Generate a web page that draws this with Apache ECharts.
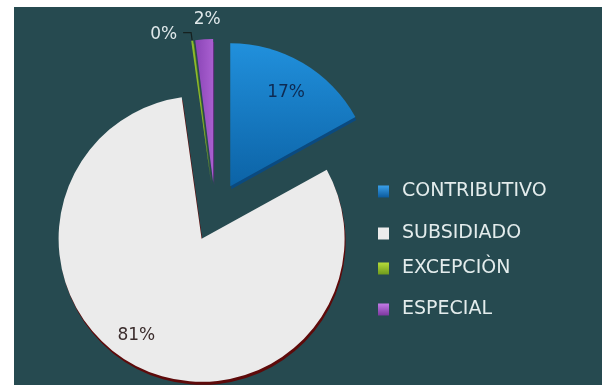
<!DOCTYPE html>
<html>
<head>
<meta charset="utf-8">
<script src="https://cdn.jsdelivr.net/npm/echarts@6/dist/echarts.min.js"></script>
<style>
  html, body { margin: 0; padding: 0; background: #ffffff; }
  #frame { position: absolute; left: 0; top: 0; width: 602px; height: 387px; background: #ffffff; }
  #chart { position: absolute; left: 14px; top: 7px; width: 588px; height: 378px; }
</style>
</head>
<body>
<div id="frame"><div id="chart"></div></div>
<script>
// Afiliación por régimen (porcentaje)
const categories = ['CONTRIBUTIVO', 'SUBSIDIADO', 'EXCEPCIÒN', 'ESPECIAL'];
const percents = [17, 81, 0, 2];

const sliceColors = [
  new echarts.graphic.LinearGradient(0, 0, 0, 1, [
    { offset: 0, color: '#2190dc' }, { offset: 1, color: '#0c63a6' }
  ]),
  '#ebebeb',
  '#8dbb2c',
  new echarts.graphic.LinearGradient(0, 0, 1, 0, [
    { offset: 0, color: '#8a45b6' }, { offset: 1, color: '#a95fd0' }
  ])
];
const rimColors = ['#0a4a80', '#5e0a0a', '#5d7d1a', '#5b2a7a'];
const labelColors = ['#0e2a52', '#3b2d2d', '#dfe8ea', '#dfe8ea'];
const legendIconColors = [
  new echarts.graphic.LinearGradient(0, 0, 0, 1, [
    { offset: 0, color: '#3aa0ea' }, { offset: 1, color: '#0b5a9c' }
  ]),
  '#ececec',
  new echarts.graphic.LinearGradient(0, 0, 0, 1, [
    { offset: 0, color: '#b6dc3a' }, { offset: 1, color: '#6f9a1c' }
  ]),
  new echarts.graphic.LinearGradient(0, 0, 0, 1, [
    { offset: 0, color: '#c27be6' }, { offset: 1, color: '#7c379f' }
  ])
];
// label placement per slice: inside labels are nudged outward, outside ones sit above the tips
const labelPositions = ['inside', 'inside', 'outside', 'outside'];
const labelShifts = [[18, -29], [-32, 30], [-1, 2], [30, -12]];
const labelLines = [false, false, true, false];
const legendRows = [184, 226, 261, 302];

const chart = echarts.init(document.getElementById('chart'), null, { renderer: 'canvas' });

const data = categories.map((name, i) => ({
  name: name,
  value: percents[i],
  selected: true,
  itemStyle: {
    color: sliceColors[i],
    borderWidth: 0,
    shadowColor: rimColors[i],
    shadowOffsetX: 1,
    shadowOffsetY: 3,
    shadowBlur: 0
  },
  label: {
    show: true,
    position: labelPositions[i],
    color: labelColors[i],
    fontFamily: 'DejaVu Sans',
    fontSize: 17,
    formatter: '{c}%'
  },
  labelLine: {
    show: labelLines[i],
    length: 8,
    length2: 8,
    lineStyle: { color: '#16211f', width: 1.2 }
  }
}));

const legends = categories.map((name, i) => ({
  data: [{ name: name, itemStyle: { color: legendIconColors[i] } }],
  orient: 'vertical',
  left: 359,
  top: legendRows[i] - 14,
  icon: 'rect',
  itemWidth: 11,
  itemHeight: 12,
  itemGap: 0,
  selectedMode: false,
  textStyle: { color: '#e3ecec', fontFamily: 'DejaVu Sans', fontSize: 19, padding: [0, 0, 0, 8] }
}));

chart.setOption({
  backgroundColor: '#264a50',
  animation: false,
  legend: legends,
  series: [{
    type: 'pie',
    center: [201, 205],
    radius: 143,
    startAngle: 90,
    clockwise: true,
    minAngle: 0.8,
    selectedMode: 'multiple',
    selectedOffset: 30,
    avoidLabelOverlap: false,
    label: { show: true },
    labelLayout: function (params) {
      const s = labelShifts[params.dataIndex];
      return { dx: s[0], dy: s[1] };
    },
    emphasis: { disabled: true },
    data: data
  }]
});
</script>
</body>
</html>
